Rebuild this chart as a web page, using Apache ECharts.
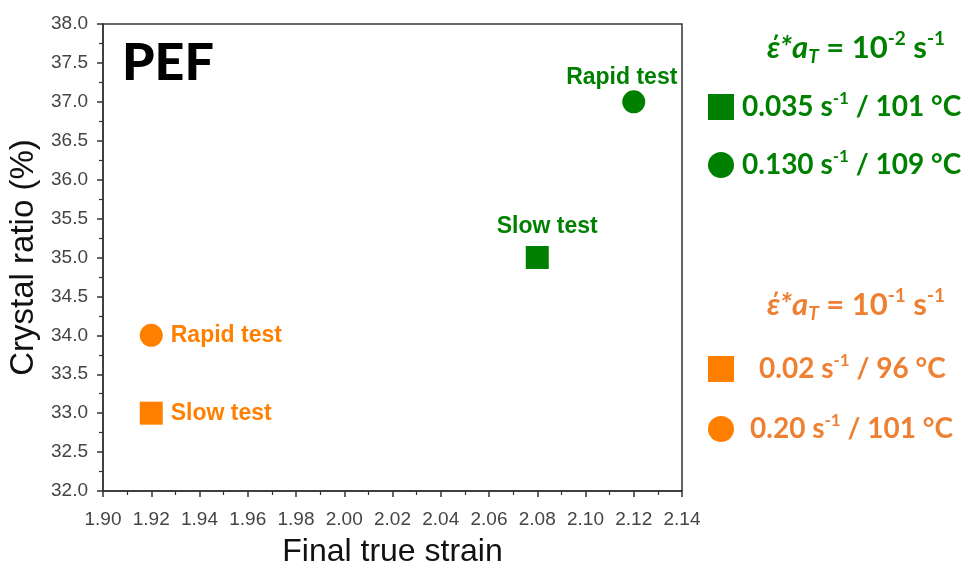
<!DOCTYPE html>
<html>
<head>
<meta charset="utf-8">
<script src="https://cdn.jsdelivr.net/npm/echarts@6/dist/echarts.min.js"></script>
<style>
  html, body { margin: 0; padding: 0; background: #fff; }
  #chart { width: 978px; height: 565px; }
</style>
</head>
<body>
<div id="chart"></div>
<script>
// Final true strain vs. crystal ratio for PEF stretched at two equivalent rates
const seriesNames = ['g-slow', 'g-rapid', 'o-slow', 'o-rapid'];
const finalStrain = [2.08, 2.12, 1.92, 1.92];
const crystalRatio = [35.0, 37.0, 33.0, 34.0];
const testLabels = ['Slow test', 'Rapid test', 'Slow test', 'Rapid test'];
const strainRates = ['0.035', '0.130', '0.02', '0.20'];
const temperatures = ['101', '109', '96', '101'];
const groupExponents = ['-2', '-1'];

const xTicks = { min: 1.90, max: 2.14, interval: 0.02 };
const yTicks = { min: 32.0, max: 38.0, interval: 0.5 };

const GREEN = '#008000';
const ORANGE = '#FF7F00';
const ORANGE_TEXT = '#EE8033';
const markerShape = ['rect', 'circle', 'rect', 'circle'];
const markerColor = [GREEN, GREEN, ORANGE, ORANGE];

const legendFont = 'Lato, "Open Sans", sans-serif';
function textStyles(size, small) {
  return {
    n: { fontFamily: legendFont, fontWeight: 'bold', fontSize: size, lineHeight: size + 6, verticalAlign: 'middle' },
    sup: { fontFamily: legendFont, fontWeight: 'bold', fontSize: small, lineHeight: small, verticalAlign: 'top' },
    it: { fontFamily: legendFont, fontWeight: 'bold', fontStyle: 'italic', fontSize: size, lineHeight: size + 6, verticalAlign: 'middle' },
    sub: { fontFamily: legendFont, fontWeight: 'bold', fontStyle: 'italic', fontSize: small, lineHeight: small, verticalAlign: 'bottom' },
    p3: { width: 3 }, p11: { width: 11 }, p20: { width: 20 }
  };
}
const itemStyles = textStyles(28, 17);
const titleStyles = textStyles(31, 19);
const pads = ['p3', 'p3', 'p20', 'p11'];

function legendText(name) {
  const i = seriesNames.indexOf(name);
  return '{' + pads[i] + '| }{n|' + strainRates[i] + ' s}{sup|-1}{n| / ' + temperatures[i] + ' °C}';
}
function groupTitle(exp) {
  return '{it|\u03B5\u0301*a}{sub|T}{n| = 10}{sup|' + exp + '}{n| s}{sup|-1}';
}

const labelLayouts = [
  { position: 'top', distance: 8, offset: [10, 0] },
  { position: 'top', distance: 1, offset: [-12, 0] },
  { position: 'right', distance: 8, offset: [0, 0] },
  { position: 'right', distance: 8, offset: [0, 0] }
];

const series = seriesNames.map((name, i) => ({
  name: name,
  type: 'scatter',
  symbol: markerShape[i],
  symbolSize: 23,
  itemStyle: { color: markerColor[i], opacity: 1 },
  emphasis: { disabled: true },
  data: [[finalStrain[i], crystalRatio[i]]],
  label: Object.assign({
    show: true,
    formatter: testLabels[i],
    color: markerColor[i],
    fontFamily: 'Arial, "Liberation Sans", sans-serif',
    fontWeight: 'bold',
    fontSize: 23
  }, labelLayouts[i])
}));

const axisFont = 'Arial, "Liberation Sans", sans-serif';
const chart = echarts.init(document.getElementById('chart'));
chart.setOption({
  animation: false,
  backgroundColor: '#fff',
  grid: {
    left: 103, right: 296, top: 24, bottom: 74,
    outerBoundsMode: 'none', containLabel: false,
    show: true, borderColor: '#333', borderWidth: 1.5, backgroundColor: 'transparent'
  },
  xAxis: {
    type: 'value', min: xTicks.min, max: xTicks.max, interval: xTicks.interval,
    name: 'Final true strain', nameLocation: 'middle', nameGap: 45,
    nameTextStyle: { fontFamily: axisFont, fontSize: 32, color: '#111', verticalAlign: 'top' },
    axisLine: { show: true, lineStyle: { color: '#333', width: 1.5 } },
    axisTick: { show: true, length: 6, lineStyle: { color: '#333', width: 1.5 } },
    minorTick: { show: true, splitNumber: 2, length: 4, lineStyle: { color: '#333', width: 1.2 } },
    splitLine: { show: false },
    axisLabel: { fontFamily: axisFont, fontSize: 19, color: '#444', margin: 19, formatter: v => v.toFixed(2) }
  },
  yAxis: {
    type: 'value', min: yTicks.min, max: yTicks.max, interval: yTicks.interval,
    name: 'Crystal ratio (%)', nameLocation: 'middle', nameGap: 56,
    nameTextStyle: { fontFamily: axisFont, fontSize: 33, color: '#111' },
    axisLine: { show: true, lineStyle: { color: '#333', width: 1.5 } },
    axisTick: { show: true, length: 6, lineStyle: { color: '#333', width: 1.5 } },
    minorTick: { show: true, splitNumber: 2, length: 4, lineStyle: { color: '#333', width: 1.2 } },
    splitLine: { show: false },
    axisLabel: { fontFamily: axisFont, fontSize: 19, color: '#444', margin: 15, formatter: v => v.toFixed(1) }
  },
  legend: [
    {
      data: seriesNames.slice(0, 2), orient: 'vertical', left: 703, top: 85,
      itemWidth: 26, itemHeight: 26, itemGap: 27, selectedMode: false,
      formatter: legendText,
      textStyle: { color: GREEN, rich: itemStyles }
    },
    {
      data: seriesNames.slice(2, 4), orient: 'vertical', left: 703, top: 347,
      itemWidth: 26, itemHeight: 26, itemGap: 29, selectedMode: false,
      formatter: legendText,
      textStyle: { color: ORANGE_TEXT, rich: itemStyles }
    }
  ],
  graphic: [
    { type: 'text', left: 122, top: 37, style: { text: 'PEF', fontFamily: legendFont, fontWeight: 900, fontSize: 52, fill: '#000' } },
    { type: 'text', left: 767, top: 29, style: { text: groupTitle(groupExponents[0]), fill: GREEN, rich: titleStyles } },
    { type: 'text', left: 767, top: 286, style: { text: groupTitle(groupExponents[1]), fill: ORANGE_TEXT, rich: titleStyles } }
  ],
  series: series
});
</script>
</body>
</html>
